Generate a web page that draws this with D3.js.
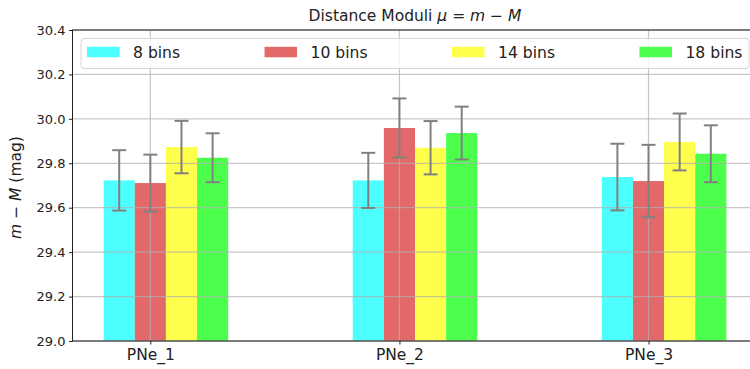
<!DOCTYPE html>
<html>
<head>
<meta charset="utf-8">
<script src="https://cdn.jsdelivr.net/npm/d3@7"></script>
<style>
  html, body { margin: 0; padding: 0; background: #fff; }
  svg { display: block; font-family: "DejaVu Sans", sans-serif; }
</style>
</head>
<body>
<svg id="chart" width="750" height="369"></svg>
<script>
// Distance moduli per planetary nebula, for four binning choices
const categories = ["PNe_1", "PNe_2", "PNe_3"];
const seriesNames = ["8 bins", "10 bins", "14 bins", "18 bins"];
const mu8  = [29.723, 29.723, 29.738];
const mu10 = [29.711, 29.959, 29.720];
const mu14 = [29.873, 29.870, 29.896];
const mu18 = [29.825, 29.936, 29.843];
const err8  = [0.136, 0.124, 0.150];
const err10 = [0.128, 0.133, 0.163];
const err14 = [0.118, 0.120, 0.128];
const err18 = [0.110, 0.119, 0.128];
const yTicks = [29.0, 29.2, 29.4, 29.6, 29.8, 30.0, 30.2, 30.4];

const seriesValues = [mu8, mu10, mu14, mu18];
const seriesErrors = [err8, err10, err14, err18];
const colors = ["#4dffff", "#e26869", "#ffff4d", "#4dff4d"];
const barWidth = 0.125;
const offsets = [-0.125, 0, 0.125, 0.25];

const svg = d3.select("#chart");
const plot = { left: 72.5, right: 757.5, top: 30, bottom: 341 };

const x = d3.scaleLinear().domain([-0.3125, 2.4375]).range([plot.left, plot.right]);
const y = d3.scaleLinear().domain([29.0, 30.4]).range([plot.bottom, plot.top]);

// Bars
const bars = [];
seriesValues.forEach((vals, s) => {
  vals.forEach((v, i) => bars.push({ s, i, v, e: seriesErrors[s][i] }));
});

svg.append("g").selectAll("rect").data(bars).join("rect")
  .attr("x", d => x(d.i + offsets[d.s] - barWidth / 2))
  .attr("width", d => x(d.i + offsets[d.s] + barWidth / 2) - x(d.i + offsets[d.s] - barWidth / 2))
  .attr("y", d => y(d.v))
  .attr("height", d => y(29.0) - y(d.v))
  .attr("fill", d => colors[d.s]);

// Grid (above bars, below error bars)
const grid = svg.append("g").attr("stroke", "#b0b0b0").attr("stroke-opacity", 0.7).attr("stroke-width", 1.3);
grid.selectAll("line.h").data(yTicks).join("line").attr("class", "h")
  .attr("x1", plot.left).attr("x2", plot.right)
  .attr("y1", d => y(d)).attr("y2", d => y(d));
grid.selectAll("line.v").data(categories).join("line").attr("class", "v")
  .attr("x1", (d, i) => x(i)).attr("x2", (d, i) => x(i))
  .attr("y1", plot.top).attr("y2", plot.bottom);

// Error bars
const eb = svg.append("g").attr("stroke", "#808080").attr("stroke-width", 2);
const capHalf = 7;
bars.forEach(d => {
  const cx = x(d.i + offsets[d.s]);
  eb.append("line").attr("x1", cx).attr("x2", cx).attr("y1", y(d.v - d.e)).attr("y2", y(d.v + d.e));
  eb.append("line").attr("x1", cx - capHalf).attr("x2", cx + capHalf).attr("y1", y(d.v + d.e)).attr("y2", y(d.v + d.e));
  eb.append("line").attr("x1", cx - capHalf).attr("x2", cx + capHalf).attr("y1", y(d.v - d.e)).attr("y2", y(d.v - d.e));
});

// Axes
const yAxis = d3.axisLeft(y).tickValues(yTicks).tickFormat(d3.format(".1f")).tickSize(3.5).tickPadding(3.5);
const gy = svg.append("g").attr("transform", `translate(${plot.left},0)`).call(yAxis);
gy.selectAll("text").attr("font-size", "13px").attr("fill", "#222").attr("font-family", "DejaVu Sans");

const xAxis = d3.axisBottom(x).tickValues(d3.range(categories.length)).tickFormat(i => categories[i]).tickSize(3.5).tickPadding(4);
const gx = svg.append("g").attr("transform", `translate(0,${plot.bottom})`).call(xAxis);
gx.selectAll("text").attr("font-size", "15.5px").attr("fill", "#222").attr("font-family", "DejaVu Sans");
[gx, gy].forEach(g => {
  g.select(".domain").remove();
  g.selectAll(".tick line").attr("stroke", "#222").attr("stroke-width", 1);
});

// Frame
svg.append("rect")
  .attr("x", plot.left).attr("y", plot.top)
  .attr("width", plot.right - plot.left).attr("height", plot.bottom - plot.top)
  .attr("fill", "none").attr("stroke", "#222").attr("stroke-width", 1);

// Title
const title = svg.append("text").attr("x", (plot.left + plot.right) / 2).attr("y", 20.5)
  .attr("text-anchor", "middle").attr("font-size", "15.5px").attr("fill", "#222");
title.append("tspan").text("Distance Moduli ");
title.append("tspan").attr("font-style", "italic").text("μ");
title.append("tspan").text(" = ");
title.append("tspan").attr("font-style", "italic").text("m");
title.append("tspan").text(" − ");
title.append("tspan").attr("font-style", "italic").text("M");

// Y label
const ylab = svg.append("text")
  .attr("transform", `translate(20.5,${(plot.top + plot.bottom) / 2 + 2}) rotate(-90)`)
  .attr("text-anchor", "middle").attr("font-size", "15.5px").attr("fill", "#222");
ylab.append("tspan").attr("font-style", "italic").text("m");
ylab.append("tspan").text(" − ");
ylab.append("tspan").attr("font-style", "italic").text("M");
ylab.append("tspan").text(" (mag)");

// Legend (four columns spread across the top of the plot)
const lg = svg.append("g");
const box = { x0: 81, x1: 749, y0: 38.5, y1: 68.5 };
lg.append("rect").attr("x", box.x0).attr("y", box.y0)
  .attr("width", box.x1 - box.x0).attr("height", box.y1 - box.y0)
  .attr("rx", 3).attr("fill", "#fff").attr("fill-opacity", 0.8)
  .attr("stroke", "#d6d6d6").attr("stroke-width", 1);
const items = lg.selectAll("g.item").data(seriesNames).join("g").attr("class", "item");
items.append("rect").attr("y", 46.8).attr("width", 32.5).attr("height", 10.5).attr("fill", (d, i) => colors[i]);
items.append("text").attr("x", 46).attr("y", 57.5).attr("font-size", "15.6px").attr("fill", "#222").text(d => d);
const widths = [];
items.select("text").each(function () { widths.push(this.getComputedTextLength()); });
const innerStart = 87, innerEnd = 742.5;
const used = widths.reduce((a, w) => a + 46 + w, 0);
const gap = (innerEnd - innerStart - used) / (seriesNames.length - 1);
let cur = innerStart;
items.each(function (d, i) {
  d3.select(this).attr("transform", `translate(${cur},0)`);
  cur += 46 + widths[i] + gap;
});
</script>
</body>
</html>
